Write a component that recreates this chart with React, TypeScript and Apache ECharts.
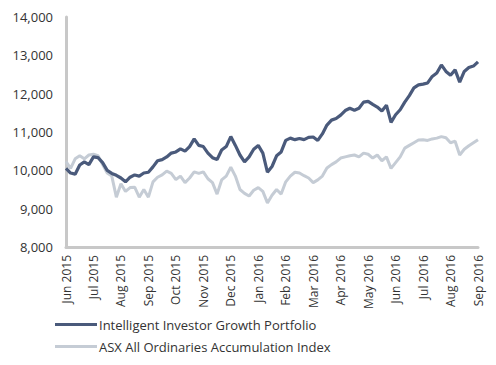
import React, { useEffect, useRef } from "react";
import * as echarts from "echarts";

const months = [
  "Jun 2015", "Jul 2015", "Aug 2015", "Sep 2015", "Oct 2015", "Nov 2015",
  "Dec 2015", "Jan 2016", "Feb 2016", "Mar 2016", "Apr 2016", "May 2016",
  "Jun 2016", "Jul 2016", "Aug 2016", "Sep 2016",
];
const POINTS_PER_MONTH = 6;

const portfolio = [
  10050, 9930, 9900, 10140, 10220, 10150,
  10350, 10330, 10200, 10000, 9920, 9870,
  9800, 9700, 9820, 9880, 9850, 9930,
  9950, 10090, 10250, 10280, 10350, 10450,
  10480, 10560, 10500, 10620, 10820, 10650,
  10620, 10450, 10330, 10280, 10530, 10620,
  10880, 10650, 10400, 10220, 10350, 10550,
  10650, 10450, 9950, 10100, 10380, 10480,
  10780, 10840, 10800, 10830, 10800, 10860,
  10870, 10780, 10950, 11180, 11310, 11350,
  11440, 11560, 11620, 11570, 11620, 11780,
  11800, 11720, 11650, 11550, 11700, 11250,
  11450, 11580, 11780, 11950, 12150, 12230,
  12250, 12280, 12450, 12540, 12750, 12580,
  12480, 12620, 12300, 12580, 12680, 12720,
  12830,
];

const asxIndex = [
  10230, 10050, 10300, 10380, 10300, 10400,
  10420, 10380, 10150, 9930, 9850, 9300,
  9650, 9450, 9550, 9560, 9300, 9500,
  9300, 9700, 9820, 9880, 9980, 9920,
  9760, 9850, 9680, 9800, 9960, 9920,
  9960, 9780, 9680, 9380, 9750, 9850,
  10080, 9850, 9500, 9400, 9330, 9480,
  9550, 9450, 9150, 9350, 9500, 9380,
  9700, 9850, 9950, 9930, 9860, 9800,
  9680, 9750, 9850, 10060, 10150, 10220,
  10320, 10350, 10380, 10400, 10350, 10450,
  10420, 10320, 10400, 10250, 10350, 10050,
  10200, 10350, 10580, 10650, 10720, 10790,
  10800, 10780, 10820, 10840, 10880, 10850,
  10720, 10760, 10400, 10550, 10640, 10720,
  10800,
];

const yTicks = { min: 8000, max: 14000, interval: 1000 };

const categories: string[] = [];
months.forEach((m, mi) => {
  const n = mi === months.length - 1 ? 1 : POINTS_PER_MONTH;
  for (let k = 0; k < n; k++) categories.push(`${m}|${k}`);
});

const FONT = "'Open Sans', sans-serif";

export default function App() {
  const ref = useRef<HTMLDivElement>(null);
  useEffect(() => {
    if (!ref.current) return;
    const chart = echarts.init(ref.current, undefined, { renderer: "svg" });
    chart.setOption({
      animation: false,
      backgroundColor: "#ffffff",
      textStyle: { fontFamily: FONT },
      grid: { left: 66, right: 18, top: 17, bottom: 118, containLabel: false },
      legend: {
        orient: "vertical",
        left: 55,
        top: 318,
        padding: 0,
        itemWidth: 42,
        itemHeight: 3,
        itemGap: 9,
        icon: "rect",
        textStyle: { fontFamily: FONT, fontSize: 13, color: "#333333", padding: [0, 0, 0, -3] },
        data: ["Intelligent Investor Growth Portfolio", "ASX All Ordinaries Accumulation Index"],
      },
      xAxis: {
        type: "category",
        boundaryGap: false,
        data: categories,
        axisLine: { show: true, lineStyle: { color: "#c8c8c8", width: 3 } },
        axisTick: { show: false },
        splitLine: { show: false },
        axisLabel: {
          rotate: 90,
          interval: (idx: number) => idx % POINTS_PER_MONTH === 0,
          formatter: (v: string) => v.split("|")[0],
          fontFamily: FONT,
          fontSize: 12,
          color: "#333333",
          margin: 8,
        },
      },
      yAxis: {
        type: "value",
        min: yTicks.min,
        max: yTicks.max,
        interval: yTicks.interval,
        axisLine: { show: true, lineStyle: { color: "#c8c8c8", width: 3 } },
        axisTick: { show: false },
        splitLine: { show: false },
        axisLabel: {
          formatter: (v: number) => v.toLocaleString("en-US"),
          fontFamily: FONT,
          fontSize: 13,
          color: "#333333",
          margin: 13,
        },
      },
      series: [
        {
          name: "ASX All Ordinaries Accumulation Index",
          type: "line",
          data: asxIndex,
          showSymbol: false,
          symbol: "none",
          color: "#c5ccd5",
          lineStyle: { color: "#c5ccd5", width: 3 },
          z: 2,
        },
        {
          name: "Intelligent Investor Growth Portfolio",
          type: "line",
          data: portfolio,
          showSymbol: false,
          symbol: "none",
          color: "#4a5a7b",
          lineStyle: { color: "#4a5a7b", width: 3.2 },
          z: 3,
        },
      ],
    });
    return () => chart.dispose();
  }, []);
  return (
    <div
      ref={ref}
      style={{ position: "fixed", left: 0, top: 0, width: 496, height: 365, background: "#fff" }}
    />
  );
}
